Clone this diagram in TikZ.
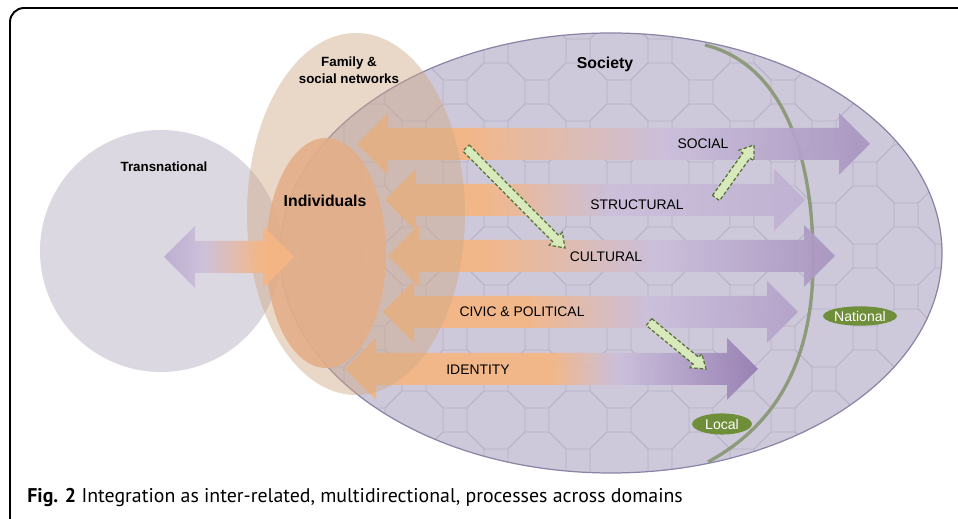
\documentclass[tikz,border=0pt]{standalone}
\usepackage{fontspec}
\setmainfont{Liberation Sans}
\newfontfamily\capfont{PT Sans}
\usepackage{tikz}
\usetikzlibrary{calc,shapes.geometric}

\definecolor{socfill}{HTML}{CDC9DA}
\definecolor{socline}{HTML}{B6B0C6}
\definecolor{socedge}{HTML}{8C84A6}
\definecolor{transfill}{HTML}{DCD8E1}
\definecolor{famfill}{HTML}{D0A885}
\definecolor{indfill}{HTML}{E4AE88}
\definecolor{orng}{HTML}{F5B683}
\definecolor{lav}{HTML}{CBBFDB}
\definecolor{purp}{HTML}{7D5F9F}
\definecolor{linkfill}{HTML}{D8E9BB}
\definecolor{linkedge}{HTML}{557236}
\definecolor{levelfill}{HTML}{6F8E3A}
\definecolor{levelline}{HTML}{8D9A7C}

\pgfdeclarehorizontalshading{domain}{100bp}{color(0bp)=(orng); color(36bp)=(orng); color(55bp)=(lav); color(100bp)=(purp)}
\pgfdeclarehorizontalshading{fadedomain}{100bp}{color(0bp)=(orng); color(37bp)=(orng); color(52bp)=(lav); color(75bp)=(lav!85!purp); color(100bp)=(lav!60!socfill)}
\pgfdeclarehorizontalshading{civicdomain}{100bp}{color(0bp)=(orng); color(42bp)=(orng); color(57bp)=(lav); color(100bp)=(purp!75!lav)}
\pgfdeclarehorizontalshading{latedomain}{100bp}{color(0bp)=(orng); color(50bp)=(orng); color(58bp)=(lav); color(75bp)=(purp!70!lav); color(100bp)=(purp)}
\pgfdeclarehorizontalshading{transdomain}{100bp}{color(0bp)=(purp!55!lav); color(40bp)=(lav); color(62bp)=(orng); color(100bp)=(orng)}

\newcommand{\domainarrow}[4][]{%
	\shade[#1] (#2,#4) -- (#2+31,#4-31) -- (#2+31,#4-16) -- (#3-31,#4-16) -- (#3-31,#4-31) -- (#3,#4) -- (#3-31,#4+31) -- (#3-31,#4+16) -- (#2+31,#4+16) -- (#2+31,#4+31) -- cycle;}

\newcommand{\linkarrow}[2]{%
	\coordinate (h) at ($(#2)!7.4pt!(#1)$);
	\filldraw[link] ($(#1)!2.5pt!90:(#2)$) -- ($(h)!2.5pt!90:(#2)$) -- ($(h)!5.2pt!90:(#2)$) -- (#2) -- ($(h)!5.2pt!-90:(#2)$) -- ($(h)!2.5pt!-90:(#2)$) -- ($(#1)!2.5pt!-90:(#2)$) -- cycle;}

\begin{document}
\begin{tikzpicture}[x=0.02cm, y=-0.02cm,
	tile/.style={draw=socline, line width=0.4pt},
	lbl/.style={font=\fontsize{7.6}{9.4}\selectfont\bfseries, align=center, inner sep=0pt},
	big/.style={font=\fontsize{9}{11}\selectfont\bfseries, inner sep=0pt},
	dom/.style={font=\fontsize{7.9}{9}\selectfont, inner sep=0pt},
	level/.style={ellipse, fill=levelfill, text=white, font=\fontsize{8}{9}\selectfont, inner sep=0pt},
	link/.style={fill=linkfill, draw=linkedge, line width=0.7pt, dash pattern=on 2pt off 1.2pt}]
	\useasboundingbox (0,0) rectangle (958,519);
	\clip (0,0) rectangle (958,519);
	\fill[white] (0,0) rectangle (958,519);
	\draw[line width=1.1pt, rounded corners=8pt] (10,8) rectangle (1000,560);

	\fill[transfill] (161,251) circle (121);

	\begin{scope}
		\clip (611,253) ellipse (331 and 220);
		\fill[socfill] (611,253) ellipse (331 and 220);
		\foreach \i in {0,...,9}
			\foreach \j in {0,...,6} {
				\draw[tile, shift={(250+82*\i,10+82*\j)}] (12,29) -- (29,12) -- (29,-12) -- (12,-29) -- (-12,-29) -- (-29,-12) -- (-29,12) -- (-12,29) -- cycle;
				\draw[tile, shift={(291+82*\i,51+82*\j)}] (12,29) -- (29,12) -- (29,-12) -- (12,-29) -- (-12,-29) -- (-29,-12) -- (-29,12) -- (-12,29) -- cycle;
			}
	\end{scope}
	\draw[socedge, line width=0.7pt] (611,253) ellipse (331 and 220);

	\draw[levelline, line width=1.9pt] (705,45) .. controls (785,65) and (815,160) .. (813,270) .. controls (811,350) and (785,420) .. (708,462);

	\domainarrow[shading=domain, opacity=0.92]{357}{870}{144}
	\domainarrow[shading=fadedomain, opacity=0.92]{385}{805}{200}
	\domainarrow[shading=domain, opacity=0.92]{388}{835}{256}
	\domainarrow[shading=civicdomain, opacity=0.92]{383}{798}{312}
	\domainarrow[shading=latedomain, opacity=0.92]{345}{758}{369}

	\fill[famfill, opacity=0.45] (356,214) ellipse (109 and 181);
	\fill[indfill, opacity=0.9] (326,253) ellipse (60 and 115);

	\domainarrow[shading=transdomain, opacity=0.92]{164}{294}{257}

	\coordinate (g1a) at (466,148);
	\coordinate (g1b) at (565,248);
	\coordinate (g2a) at (716,198);
	\coordinate (g2b) at (754,145);
	\coordinate (g3a) at (649,322);
	\coordinate (g3b) at (706,369);
	\linkarrow{g1a}{g1b}
	\linkarrow{g2a}{g2b}
	\linkarrow{g3a}{g3b}

	\node[lbl] (trans) at (164,167) {Transnational};
	\node[lbl] (family) at (349,70) {Family \&\\social networks};
	\node[big] (society) at (605,64) {Society};
	\node[big] (indiv) at (325,201) {Individuals};
	\node[dom] (social) at (703,144) {SOCIAL};
	\node[dom] (structural) at (637,205) {STRUCTURAL};
	\node[dom] (cultural) at (606,257) {CULTURAL};
	\node[dom] (civic) at (522,312) {CIVIC \& POLITICAL};
	\node[dom] (identity) at (478,370) {IDENTITY};
	\node[level, minimum width=42pt, minimum height=11pt] (national) at (860,316) {National};
	\node[level, minimum width=34pt, minimum height=12pt] (local) at (722,424) {Local};

	\node[anchor=base west, inner sep=0pt, font=\capfont\fontsize{11.3}{13}\selectfont] (caption) at (27,503) {\textbf{Fig. 2} Integration as inter-related, multidirectional, processes across domains};
\end{tikzpicture}
\end{document}
